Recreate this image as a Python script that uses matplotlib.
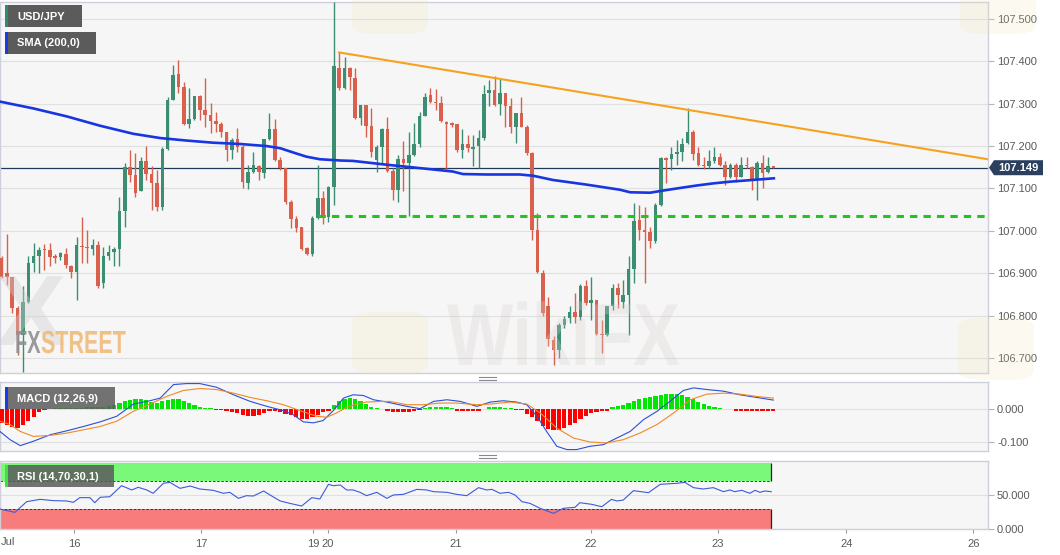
import numpy as np
import matplotlib
matplotlib.use("Agg")
import matplotlib.pyplot as plt
from matplotlib.patches import Rectangle, Polygon, FancyBboxPatch, PathPatch
from matplotlib.lines import Line2D
from matplotlib.textpath import TextPath
from matplotlib.font_manager import FontProperties
from matplotlib.transforms import Affine2D

plt.rcParams['font.family'] = ['Liberation Sans', 'DejaVu Sans']

# hourly USD/JPY candles (index 0 = first visible hour)
opens = [
    106.936, 106.900, 106.891, 106.818, 106.755, 106.833, 106.924, 106.941, 106.957, 106.955,
    106.940, 106.938, 106.946, 106.917, 106.902, 106.965, 106.963, 106.957, 106.967, 106.877,
    106.941, 106.951, 106.957, 107.046, 107.150, 107.131, 107.094, 107.164, 107.134, 107.114,
    107.057, 107.193, 107.309, 107.370, 107.339, 107.252, 107.264, 107.318, 107.285, 107.274,
    107.260, 107.252, 107.233, 107.191, 107.216, 107.199, 107.114, 107.140, 107.153, 107.136,
    107.216, 107.240, 107.168, 107.148, 107.069, 107.028, 107.008, 106.960, 106.946, 107.030,
    107.077, 107.032, 107.103, 107.385, 107.336, 107.385, 107.361, 107.266, 107.297, 107.248,
    107.168, 107.197, 107.240, 107.142, 107.097, 107.170, 107.160, 107.180, 107.206, 107.270,
    107.321, 107.303, 107.302, 107.258, 107.254, 107.252, 107.191, 107.204, 107.194, 107.201,
    107.219, 107.325, 107.333, 107.300, 107.325, 107.294, 107.246, 107.278, 107.246, 107.183,
    107.002, 106.900, 106.823, 106.743, 106.718, 106.777, 106.794, 106.808, 106.797, 106.869,
    106.830, 106.836, 106.757, 106.755, 106.822, 106.866, 106.831, 106.849, 106.910, 107.026,
    107.002, 106.998, 106.975, 107.061, 107.171, 107.170, 107.181, 107.187, 107.207, 107.234,
    107.183, 107.156, 107.152, 107.164, 107.175, 107.156, 107.128, 107.156, 107.128, 107.156,
    107.150, 107.122, 107.160, 107.138, 107.153]
highs = [
    106.940, 106.992, 106.891, 106.822, 106.869, 106.940, 106.972, 106.963, 106.969, 106.972,
    106.945, 106.951, 106.959, 106.920, 106.985, 107.033, 107.002, 106.980, 106.975, 106.963,
    106.967, 106.963, 107.079, 107.160, 107.191, 107.183, 107.175, 107.201, 107.152, 107.144,
    107.199, 107.317, 107.392, 107.402, 107.352, 107.337, 107.318, 107.321, 107.360, 107.301,
    107.281, 107.258, 107.234, 107.219, 107.242, 107.203, 107.156, 107.187, 107.156, 107.216,
    107.278, 107.264, 107.175, 107.148, 107.073, 107.034, 107.010, 106.963, 107.034, 107.156,
    107.093, 107.105, 107.539, 107.421, 107.410, 107.387, 107.384, 107.297, 107.298, 107.289,
    107.203, 107.242, 107.268, 107.148, 107.180, 107.211, 107.234, 107.255, 107.280, 107.326,
    107.336, 107.334, 107.319, 107.260, 107.256, 107.252, 107.240, 107.226, 107.226, 107.238,
    107.344, 107.357, 107.366, 107.358, 107.326, 107.313, 107.279, 107.317, 107.250, 107.186,
    107.042, 106.908, 106.845, 106.751, 106.782, 106.798, 106.822, 106.853, 106.875, 106.885,
    106.892, 106.836, 106.790, 106.822, 106.875, 106.877, 106.885, 106.940, 107.065, 107.061,
    107.057, 107.010, 107.065, 107.175, 107.175, 107.199, 107.215, 107.219, 107.289, 107.238,
    107.199, 107.175, 107.191, 107.197, 107.183, 107.164, 107.160, 107.160, 107.175, 107.175,
    107.152, 107.164, 107.178, 107.175, 107.154]
lows = [
    106.888, 106.873, 106.806, 106.708, 106.668, 106.829, 106.904, 106.900, 106.908, 106.916,
    106.925, 106.932, 106.912, 106.888, 106.837, 106.924, 106.924, 106.943, 106.865, 106.865,
    106.932, 106.916, 106.916, 107.010, 107.116, 107.081, 107.093, 107.120, 107.050, 107.046,
    107.050, 107.190, 107.309, 107.325, 107.250, 107.242, 107.262, 107.262, 107.246, 107.230,
    107.234, 107.222, 107.166, 107.169, 107.187, 107.101, 107.098, 107.136, 107.120, 107.124,
    107.215, 107.164, 107.144, 107.064, 107.006, 106.998, 106.954, 106.943, 106.941, 107.028,
    107.017, 107.020, 107.061, 107.333, 107.334, 107.333, 107.264, 107.250, 107.222, 107.175,
    107.140, 107.159, 107.140, 107.073, 107.069, 107.093, 107.034, 107.176, 107.199, 107.270,
    107.301, 107.285, 107.258, 107.144, 107.246, 107.187, 107.173, 107.187, 107.152, 107.148,
    107.215, 107.295, 107.295, 107.274, 107.246, 107.230, 107.207, 107.244, 107.180, 106.979,
    106.900, 106.798, 106.729, 106.684, 106.700, 106.770, 106.782, 106.782, 106.789, 106.826,
    106.790, 106.755, 106.712, 106.751, 106.814, 106.818, 106.818, 106.755, 106.878, 106.979,
    106.877, 106.959, 106.971, 107.059, 107.112, 107.144, 107.156, 107.164, 107.205, 107.167,
    107.152, 107.145, 107.148, 107.161, 107.152, 107.109, 107.124, 107.116, 107.127, 107.148,
    107.097, 107.073, 107.101, 107.136, 107.148]
closes = [
    106.892, 106.891, 106.818, 106.755, 106.833, 106.924, 106.941, 106.955, 106.955, 106.938,
    106.936, 106.947, 106.920, 106.902, 106.967, 106.962, 106.959, 106.967, 106.869, 106.941,
    106.951, 106.957, 107.046, 107.150, 107.131, 107.090, 107.164, 107.134, 107.114, 107.057,
    107.193, 107.309, 107.368, 107.339, 107.252, 107.264, 107.318, 107.285, 107.274, 107.260,
    107.252, 107.233, 107.191, 107.215, 107.199, 107.116, 107.138, 107.156, 107.138, 107.216,
    107.240, 107.168, 107.148, 107.069, 107.028, 107.006, 106.957, 106.946, 107.030, 107.077,
    107.030, 107.103, 107.388, 107.336, 107.385, 107.362, 107.266, 107.297, 107.248, 107.187,
    107.197, 107.240, 107.142, 107.097, 107.170, 107.160, 107.180, 107.206, 107.270, 107.317,
    107.303, 107.301, 107.260, 107.252, 107.250, 107.191, 107.204, 107.195, 107.197, 107.219,
    107.323, 107.333, 107.297, 107.325, 107.294, 107.246, 107.277, 107.246, 107.183, 107.002,
    106.904, 106.806, 106.745, 106.718, 106.778, 106.792, 106.808, 106.797, 106.870, 106.830,
    106.836, 106.757, 106.755, 106.822, 106.866, 106.848, 106.849, 106.910, 107.024, 107.002,
    106.998, 106.975, 107.061, 107.171, 107.167, 107.181, 107.187, 107.205, 107.234, 107.182,
    107.156, 107.152, 107.164, 107.175, 107.156, 107.128, 107.156, 107.127, 107.156, 107.152,
    107.120, 107.161, 107.136, 107.153, 107.149]

# SMA(200)
sma_x = [-0.3, 5.9, 12.2, 18.4, 24.6, 29.6, 34.6, 39.5, 44.5, 49.5, 52.0, 54.4, 56.9, 59.4,
         63.2, 65.6, 71.9, 78.1, 84.2, 86.1, 90.6, 96.7, 99.2, 102.9, 109.2, 115.4, 117.3,
         121.0, 123.4, 126.5, 129.7, 132.8, 135.9, 139.0, 142.1, 144.1]
sma_y = [107.305, 107.289, 107.270, 107.248, 107.229, 107.219, 107.213, 107.208, 107.205,
         107.200, 107.195, 107.185, 107.175, 107.169, 107.166, 107.165, 107.156, 107.148,
         107.140, 107.134, 107.133, 107.133, 107.130, 107.120, 107.109, 107.097, 107.091,
         107.090, 107.095, 107.101, 107.107, 107.112, 107.116, 107.119, 107.122, 107.124]

trend_x = [63, 184]
trend_y = [107.421, 107.169]
support = 107.034
support_from = 59
last_price = 107.149

# MACD (12,26,9)
hist = [
    -0.042, -0.048, -0.056, -0.058, -0.048, -0.036, -0.023, -0.009, -0.003, 0.001,
    0.002, 0.002, 0.003, 0.003, 0.004, 0.004, 0.005, 0.005, 0.006, 0.007,
    0.008, 0.011, 0.017, 0.023, 0.027, 0.030, 0.030, 0.027, 0.021, 0.019,
    0.023, 0.028, 0.031, 0.031, 0.025, 0.018, 0.011, 0.007, 0.004, 0.002,
    -0.002, -0.004, -0.006, -0.009, -0.013, -0.019, -0.022, -0.022, -0.019, -0.013,
    -0.007, -0.006, -0.009, -0.014, -0.019, -0.024, -0.029, -0.030, -0.025, -0.017,
    -0.010, -0.005, 0.013, 0.023, 0.030, 0.033, 0.029, 0.023, 0.015, 0.007,
    0.003, 0.001, -0.007, -0.009, -0.010, -0.009, -0.008, -0.006, -0.003, 0.003,
    0.005, 0.007, 0.007, 0.005, 0.003, -0.005, -0.007, -0.007, -0.007, -0.005,
    0.001, 0.005, 0.005, 0.005, 0.004, 0.002, -0.003, -0.004, -0.015, -0.025,
    -0.037, -0.051, -0.060, -0.065, -0.065, -0.058, -0.049, -0.042, -0.031, -0.021,
    -0.013, -0.009, -0.007, -0.006, 0.005, 0.008, 0.011, 0.017, 0.023, 0.030,
    0.034, 0.037, 0.040, 0.043, 0.045, 0.045, 0.045, 0.042, 0.037, 0.030,
    0.021, 0.014, 0.009, 0.005, 0.003, 0.000, -0.001, -0.005, -0.005, -0.006,
    -0.007, -0.007, -0.007, -0.007, -0.006]
macd_x = [-0.3, 1.6, 3.5, 5.9, 9.1, 12.2, 15.3, 18.4, 21.5, 24.6, 27.7, 29.6, 32.1, 34.5,
          37.0, 40.1, 43.3, 46.4, 49.5, 52.6, 54.4, 56.3, 58.2, 60.0, 61.9, 63.8, 65.6,
          67.5, 69.4, 71.9, 75.6, 78.1, 80.6, 83.1, 85.6, 88.7, 91.2, 93.6, 96.1, 98.0,
          99.9, 101.7, 103.6, 105.5, 107.3, 109.8, 112.3, 114.8, 117.3, 119.8, 122.3,
          124.7, 127.2, 129.1, 131.6, 134.7, 137.8, 140.9, 144.0]
macd_y = [-0.068, -0.093, -0.111, -0.098, -0.078, -0.066, -0.053, -0.039, -0.022, 0.015,
          0.025, 0.033, 0.074, 0.077, 0.077, 0.066, 0.043, 0.023, 0.008, -0.005, -0.017,
          -0.039, -0.042, -0.035, -0.005, 0.033, 0.043, 0.041, 0.028, 0.021, 0.008, 0.001,
          0.023, 0.028, 0.023, 0.008, 0.021, 0.025, 0.021, 0.013, -0.022, -0.068, -0.113,
          -0.123, -0.123, -0.113, -0.108, -0.088, -0.068, -0.032, -0.007, 0.023, 0.056,
          0.064, 0.059, 0.054, 0.043, 0.035, 0.027]
signal_x = [-0.3, 1.6, 3.5, 5.9, 9.1, 12.2, 15.3, 18.4, 21.5, 24.6, 27.7, 30.8, 33.9, 37.0,
            40.1, 43.3, 46.4, 49.5, 52.6, 55.7, 58.8, 60.7, 62.5, 64.4, 66.3, 68.1, 71.2,
            72.5, 75.6, 78.7, 81.8, 84.9, 88.7, 91.2, 94.9, 98.0, 100.5, 103.6, 106.7,
            109.8, 112.9, 116.0, 119.1, 122.3, 125.4, 128.5, 131.6, 134.7, 137.8, 140.9, 144.0]
signal_y = [-0.037, -0.047, -0.068, -0.083, -0.080, -0.073, -0.063, -0.053, -0.037, -0.007,
            0.015, 0.038, 0.056, 0.062, 0.059, 0.048, 0.035, 0.025, 0.013, -0.005, -0.022,
            -0.025, -0.012, 0.005, 0.015, 0.021, 0.023, 0.023, 0.013, 0.013, 0.018, 0.018,
            0.013, 0.015, 0.021, 0.015, -0.012, -0.058, -0.088, -0.100, -0.103, -0.093,
            -0.073, -0.047, -0.012, 0.028, 0.045, 0.048, 0.045, 0.038, 0.033]

# RSI (14)
rsi_x = [-0.3, 2.5, 4.7, 7.2, 9.7, 12.2, 13.4, 14.6, 16.5, 17.4, 18.4, 20.2, 22.4, 24.3,
         25.5, 27.1, 28.3, 30.2, 31.4, 33.3, 35.2, 37.0, 39.5, 41.4, 42.6, 44.2, 45.7, 47.0,
         48.9, 50.1, 52.0, 53.8, 56.0, 57.9, 59.4, 61.0, 61.9, 63.2, 64.4, 65.6, 66.9, 68.1,
         70.0, 71.9, 73.1, 75.0, 77.5, 79.3, 80.6, 83.1, 84.9, 86.8, 89.0, 90.5, 91.5, 93.0,
         94.6, 95.8, 97.1, 98.6, 100.5, 103.0, 104.8, 107.0, 107.9, 110.1, 112.0, 113.8,
         114.8, 116.0, 117.9, 120.7, 122.9, 126.0, 127.5, 129.1, 130.9, 132.8, 134.7, 135.9,
         136.8, 138.1, 139.6, 140.6, 141.5, 142.4, 143.6]
rsi_y = [29.4, 24.5, 40.2, 43.6, 41.7, 41.2, 39.2, 46.1, 46.1, 38.7, 46.6, 47.5, 63.7, 57.4,
         61.3, 57.4, 52.5, 67.2, 68.6, 59.8, 63.2, 58.8, 56.9, 52.5, 53.9, 45.1, 49.0, 48.5,
         55.9, 50.0, 41.2, 37.7, 33.8, 46.1, 44.1, 65.7, 63.7, 64.7, 57.4, 57.4, 53.9, 49.0,
         53.9, 45.1, 50.0, 51.0, 58.3, 57.4, 54.9, 53.9, 51.0, 49.0, 60.8, 57.4, 58.3, 52.5,
         53.9, 50.0, 40.2, 37.7, 30.4, 23.0, 30.4, 31.9, 38.7, 36.3, 32.8, 43.6, 41.2, 42.6,
         56.4, 53.4, 65.7, 67.2, 68.6, 60.8, 58.8, 60.8, 54.9, 57.4, 54.9, 56.9, 52.5, 56.9,
         53.9, 55.9, 54.9]

day_pos = [13.5, 37.2, 58.1, 60.9, 84.8, 110.0, 133.7, 157.6, 181.3]
day_lab = ['16', '17', '19', '20', '21', '22', '23', '24', '26']
price_ticks = [106.7, 106.8, 106.9, 107.0, 107.1, 107.2, 107.3, 107.4, 107.5]

W, H = 1060, 555


def fx(px):
    return px / W


def fy(py):
    return 1 - py / H


GREEN = '#3b8e72'
RED = '#d9604c'
TXT = '#5a5a5a'
XL = (-0.28, 184.05)

fig = plt.figure(figsize=(W / 100, H / 100), dpi=100)
fig.patch.set_facecolor('white')
ax = fig.add_axes([0, fy(373), fx(988), 371 / H])
ax_m = fig.add_axes([0, fy(451), fx(988), 69 / H])
ax_r = fig.add_axes([0, fy(529), fx(988), 68 / H])


def style(a, ticks, labels):
    a.set_facecolor('#f6f6f6')
    a.set_xlim(*XL)
    a.yaxis.tick_right()
    a.set_yticks(ticks)
    a.set_yticklabels(labels)
    a.tick_params(axis='y', length=4, width=0.8, color='#b5b5b5', labelsize=8,
                  labelcolor=TXT, pad=2.5)
    a.tick_params(axis='x', bottom=False, labelbottom=False)
    a.grid(axis='y', color='#e0e0e0', lw=0.8)
    a.set_axisbelow(True)
    for s in a.spines.values():
        s.set_color('#cdd0da')
        s.set_linewidth(1)


# main price panel
o, h, l, c = map(np.array, (opens, highs, lows, closes))
x = np.arange(len(c))
cols = np.where(c >= o, GREEN, RED)
ax.vlines(x, l, h, colors=cols, lw=1, zorder=3)
ax.bar(x, np.maximum(np.abs(c - o), 0.0022), width=0.66, bottom=np.minimum(o, c),
       color=cols, lw=0, zorder=4)
ax.axhline(last_price, color='#203a5a', lw=0.9, zorder=2)
ax.plot(sma_x, sma_y, color='#1736e2', lw=1.9, zorder=5)
ax.plot(trend_x, trend_y, color='#f7a21e', lw=1.5, zorder=5)
ax.plot([support_from, XL[1]], [support, support], color='#22c322', lw=2.2,
        dashes=(2.4, 2.0), zorder=5)
ax.set_ylim(106.6646, 107.540)
style(ax, price_ticks, ['%.3f' % v for v in price_ticks])

# MACD panel
hv = np.array(hist)
ax_m.bar(x, hv, width=0.8, color=np.where(hv >= 0, '#00e600', '#ff0000'), lw=0, zorder=3)
ax_m.plot(macd_x, macd_y, color='#2d4fd6', lw=0.8, zorder=4)
ax_m.plot(signal_x, signal_y, color='#f08a24', lw=0.8, zorder=4)
ax_m.set_ylim(-0.1273, 0.0818)
style(ax_m, [0.0, -0.1], ['0.000', '-0.100'])

# RSI panel
band_end = x[-1] - 0.5
ax_r.add_patch(Rectangle((XL[0], 70), band_end - XL[0], 27.5, fc='#7af87a', ec='none', zorder=1))
ax_r.add_patch(Rectangle((XL[0], 0), band_end - XL[0], 30, fc='#f87c7c', ec='none', zorder=1))
ax_r.hlines([70, 30], XL[0], band_end, colors='#222222', lw=0.6, linestyles=(0, (3, 2)), zorder=2)
ax_r.vlines([band_end, band_end], [70, 0], [97.5, 30], colors='#222222', lw=0.9, zorder=2)
ax_r.plot(rsi_x, rsi_y, color='#3b5bdb', lw=0.8, zorder=3)
ax_r.set_ylim(0, 100)
style(ax_r, [0, 50], ['0.000', '50.000'])
ax_r.set_xticks(day_pos)
ax_r.set_xticklabels(day_lab)
ax_r.tick_params(axis='x', bottom=True, labelbottom=True, length=3, color='#999999',
                 labelsize=8, labelcolor=TXT, pad=4)
fig.text(fx(1), fy(542), 'Jul', ha='left', va='center', fontsize=8, color=TXT)

# last price tag
fig.canvas.draw()
yf = ax.transData.transform((0, last_price))[1] / H
fig.add_artist(Polygon([(fx(989), yf), (fx(994), yf + 7.5 / H), (fx(1043), yf + 7.5 / H),
                        (fx(1043), yf - 7.5 / H), (fx(994), yf - 7.5 / H)],
                       closed=True, transform=fig.transFigure, fc='#2b3f5f', ec='none', zorder=10))
fig.text(fx(1018), yf, '%.3f' % last_price, ha='center', va='center', fontsize=8,
         fontweight='bold', color='white', zorder=11)


# indicator name boxes
def name_box(y0, y1, x1, stripe, text, alpha=1.0):
    fig.add_artist(Rectangle((fx(5), fy(y1)), fx(x1 - 5), (y1 - y0) / H, transform=fig.transFigure,
                             fc='#5b5b5b', ec='none', alpha=alpha, zorder=10))
    fig.add_artist(Rectangle((fx(5), fy(y1)), fx(3), (y1 - y0) / H, transform=fig.transFigure,
                             fc=stripe, ec='none', zorder=11))
    fig.text(fx(17), fy((y0 + y1) / 2 + 0.5), text, color='white', fontsize=8, fontweight='bold',
             va='center', ha='left', zorder=12)


name_box(5, 27, 82, '#2f8a6e', 'USD/JPY')
name_box(32, 54, 96, '#1a3ae6', 'SMA (200,0)')
name_box(387, 409, 115, '#1a3ae6', 'MACD (12,26,9)', alpha=0.85)
name_box(465, 487, 114, '#3ee23e', 'RSI (14,70,30,1)', alpha=0.85)

# panel resize handles
for yy in (377, 380, 455, 458):
    fig.add_artist(Line2D([fx(479), fx(496)], [fy(yy), fy(yy)], color='#8a8a8a', lw=0.8))


# watermarks
def stamp(text, x0, base, sx, sy, color, alpha):
    tp = TextPath((0, 0), text, size=1, prop=FontProperties(family='Liberation Sans', weight='bold'))
    tr = Affine2D().scale(sx, sy).translate(x0, H - base)
    fig.add_artist(PathPatch(tp, transform=tr, fc=color, ec='none', alpha=alpha, zorder=6))


for bx, by in ((352, 312), (352, -28), (958, 318), (960, -28)):
    fig.add_artist(FancyBboxPatch((fx(bx), fy(by + 62)), fx(76), 62 / H,
                                  boxstyle='round,pad=0,rounding_size=0.02',
                                  transform=fig.transFigure, fc='#f3e2ad', ec='none',
                                  alpha=0.18, zorder=6))
stamp('X', -4, 345, 105, 100, '#cfcfcf', 0.4)
stamp('WikiFX', 447, 365, 70, 88, '#d9cfcf', 0.3)
stamp('FX', 15, 353, 20, 32, '#8f8f8f', 0.9)
stamp('STREET', 41, 353, 21.5, 32, '#f0b874', 0.85)

fig.savefig('out.png', dpi=100)
